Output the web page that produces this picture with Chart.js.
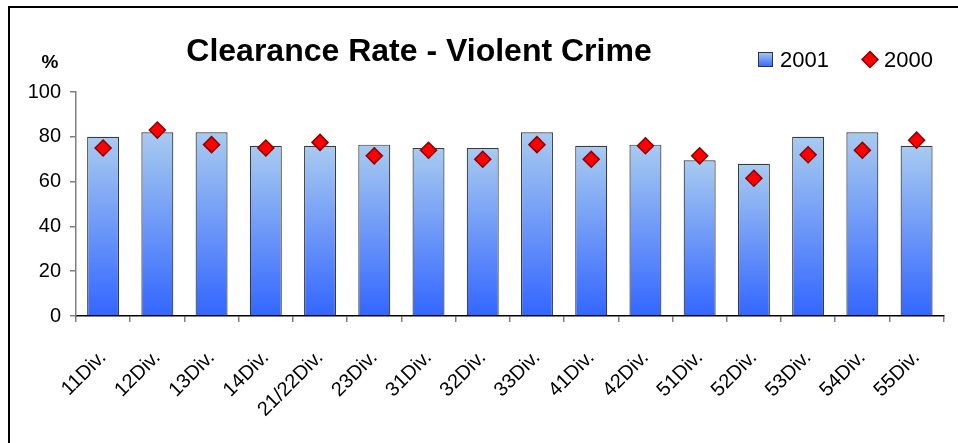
<!DOCTYPE html>
<html>
<head>
<meta charset="utf-8">
<script src="https://cdn.jsdelivr.net/npm/chart.js@4.4.1/dist/chart.umd.min.js"></script>
<style>
  html, body { margin: 0; padding: 0; background: #fff; }
  canvas { display: block; }
</style>
</head>
<body>
<canvas id="chart" width="958" height="443"></canvas>
<script>
// Divisions along the x axis
const divisions = ['11Div.', '12Div.', '13Div.', '14Div.', '21/22Div.', '23Div.', '31Div.', '32Div.',
                   '33Div.', '41Div.', '42Div.', '51Div.', '52Div.', '53Div.', '54Div.', '55Div.'];
// Clearance rate (%) per division
const rate2001 = [80, 82, 82, 76, 76, 76.5, 75, 75, 82, 76, 76.5, 69.5, 68, 80, 82, 76];
const rate2000 = [75, 83, 76.5, 75, 77.5, 71.5, 74, 70, 76.5, 70, 76, 71.5, 61.5, 72, 74, 78.5];
// Value axis ticks
const yTicks = [0, 20, 40, 60, 80, 100];

const chartTitle = 'Clearance Rate - Violent Crime';
const unitLabel = '%';
const seriesNames = ['2001', '2000'];

const FONT = '"Liberation Sans", Arial, sans-serif';
const BAR_TOP = '#a8cbf0';
const BAR_BOTTOM = '#3366ff';

// Vertical gradient for each bar, light at the top of the bar, saturated at the base
function barGradient(ctx) {
  const chart = ctx.chart;
  const area = chart.chartArea;
  if (!area || ctx.type !== 'data') return BAR_TOP;
  const yScale = chart.scales.y;
  const top = yScale.getPixelForValue(ctx.raw);
  const base = yScale.getPixelForValue(0);
  const g = chart.ctx.createLinearGradient(0, top, 0, base);
  g.addColorStop(0, BAR_TOP);
  g.addColorStop(1, BAR_BOTTOM);
  return g;
}

// Outer frame, title, unit label and legend
const decorations = {
  id: 'decorations',
  beforeDraw(chart) {
    const c = chart.ctx;
    c.save();
    c.fillStyle = '#fff';
    c.fillRect(0, 0, chart.width, chart.height);
    c.strokeStyle = '#000';
    c.lineWidth = 2;
    c.beginPath();
    c.moveTo(9, chart.height + 2);
    c.lineTo(9, 7);
    c.lineTo(chart.width + 2, 7);
    c.stroke();
    c.restore();
  },
  afterDraw(chart) {
    const c = chart.ctx;
    c.save();
    c.fillStyle = '#000';
    c.textBaseline = 'alphabetic';

    c.font = 'bold 32px ' + FONT;
    c.textAlign = 'center';
    c.fillText(chartTitle, 419, 61);

    c.font = 'bold 19px ' + FONT;
    c.fillText(unitLabel, 50, 68);

    // legend: bar swatch
    c.textAlign = 'left';
    const sx = 758, sy = 52, ss = 15;
    const g = c.createLinearGradient(0, sy, 0, sy + ss);
    g.addColorStop(0, BAR_TOP);
    g.addColorStop(1, BAR_BOTTOM);
    c.fillStyle = g;
    c.fillRect(sx, sy, ss, ss);
    c.strokeStyle = '#333';
    c.lineWidth = 1;
    c.strokeRect(sx + 0.5, sy + 0.5, ss - 1, ss - 1);
    c.fillStyle = '#000';
    c.font = '22px ' + FONT;
    c.fillText(seriesNames[0], 780, 67);

    // legend: diamond marker
    const dx = 870, dy = 59.5, r = 8;
    c.beginPath();
    c.moveTo(dx, dy - r);
    c.lineTo(dx + r, dy);
    c.lineTo(dx, dy + r);
    c.lineTo(dx - r, dy);
    c.closePath();
    c.fillStyle = '#ff0000';
    c.fill();
    c.strokeStyle = '#8b0000';
    c.lineWidth = 1.5;
    c.stroke();
    c.fillStyle = '#000';
    c.fillText(seriesNames[1], 884, 67);
    c.restore();
  }
};

new Chart(document.getElementById('chart'), {
  data: {
    labels: divisions,
    datasets: [
      {
        type: 'line',
        label: seriesNames[1],
        data: rate2000,
        showLine: false,
        pointStyle: 'rectRot',
        pointRadius: 8,
        pointHoverRadius: 8,
        pointBackgroundColor: '#ff0000',
        pointBorderColor: '#8b0000',
        pointBorderWidth: 1.5,
        order: 0
      },
      {
        type: 'bar',
        label: seriesNames[0],
        data: rate2001,
        backgroundColor: barGradient,
        borderColor: '#3a3a3a',
        borderWidth: 1.2,
        borderSkipped: 'bottom',
        categoryPercentage: 1,
        barPercentage: 0.59,
        order: 1
      }
    ]
  },
  options: {
    responsive: false,
    animation: false,
    layout: { padding: { top: 92, right: 14, left: 0, bottom: 0 } },
    plugins: {
      legend: { display: false },
      title: { display: false },
      tooltip: { enabled: false }
    },
    scales: {
      x: {
        offset: true,
        grid: { drawOnChartArea: false, offset: true, tickLength: 6, color: '#808080', lineWidth: 1.5 },
        border: { color: '#000', width: 1.5 },
        ticks: {
          color: '#000',
          font: { family: FONT, size: 20 },
          minRotation: 45,
          maxRotation: 45,
          autoSkip: false,
          padding: 24
        },
        afterFit(scale) { scale.height = 127; }
      },
      y: {
        min: 0,
        max: 100,
        afterBuildTicks(scale) { scale.ticks = yTicks.map(v => ({ value: v })); },
        grid: { drawOnChartArea: false, tickLength: 6, color: '#808080', lineWidth: 1.5 },
        border: { color: '#808080', width: 1.5 },
        ticks: {
          color: '#000',
          font: { family: FONT, size: 20 },
          padding: 9
        },
        afterFit(scale) { scale.width = 76; }
      }
    }
  },
  plugins: [decorations]
});
</script>
</body>
</html>
